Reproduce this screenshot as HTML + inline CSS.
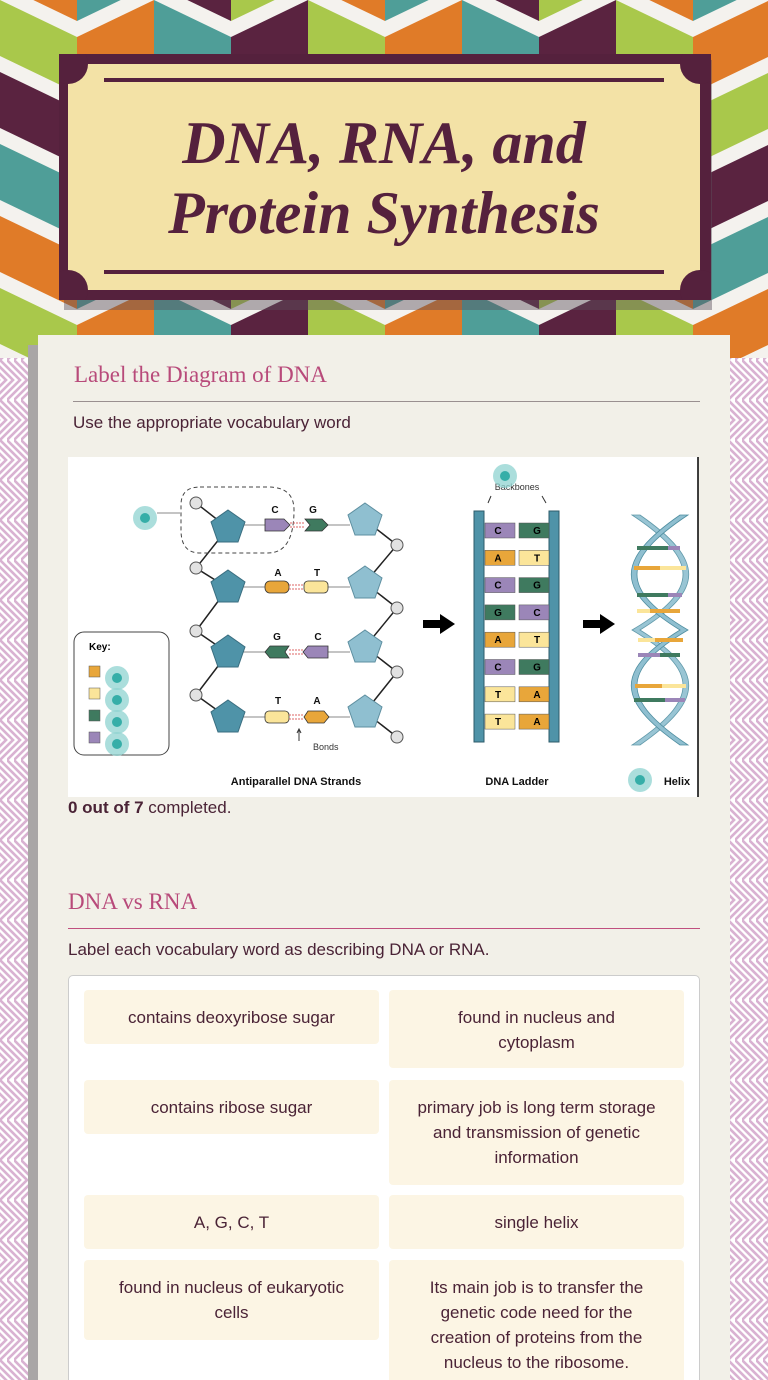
<!DOCTYPE html>
<html style="width:768px;height:1380px;overflow:hidden"><head><meta charset="utf-8">
<style>
*{margin:0;padding:0;box-sizing:border-box}
body{width:768px;height:1380px;overflow:hidden;position:relative;background:#fff;font-family:"Liberation Sans","DejaVu Sans",sans-serif}
.abs{position:absolute}
.h2{position:absolute;font-family:"Liberation Serif",serif;font-size:23px;color:#b84a7a}
.p{position:absolute;font-size:17px;color:#4a2336}
.cell{position:absolute;background:#fcf5e4;border-radius:4px;color:#4a2336;font-size:17px;line-height:25px;text-align:center;padding-top:15px}
</style></head><body>
<svg class="abs" style="left:0;top:0" width="768" height="1380">
<defs>
<pattern id="zz" width="7" height="40" patternUnits="userSpaceOnUse">
<polyline points="-21,0 -1,20 -21,40" fill="none" stroke="#d9b2d2" stroke-width="2.6"/>
<polyline points="-14,0 6,20 -14,40" fill="none" stroke="#d9b2d2" stroke-width="2.6"/>
<polyline points="-7,0 13,20 -7,40" fill="none" stroke="#d9b2d2" stroke-width="2.6"/>
<polyline points="0,0 20,20 0,40" fill="none" stroke="#d9b2d2" stroke-width="2.6"/>
</pattern>
<clipPath id="top"><rect x="0" y="0" width="768" height="358"/></clipPath>
</defs>
<rect x="0" y="350" width="768" height="1030" fill="url(#zz)"/>
<g id="chev" clip-path="url(#top)"></g>
</svg>
<script>
(function(){
var g=document.getElementById('chev');var cols=['#a9c84b','#5a2340','#4f9e98','#e07b28'];
var s='<rect x="0" y="0" width="768" height="360" fill="#f4f2ee"/>';
var W=77,A=37,P=72,T=56;
for(var i=-1;i<11;i++){var x0=i*W,x1=x0+W;var down=(i%2===0);
 for(var j=-2;j<7;j++){var yb=j*P;var c=cols[((i*3+j*5)%4+8)%4];
  var y0=down?yb:yb+A, y1=down?yb+A:yb;
  s+='<polygon fill="'+c+'" points="'+x0+','+y0+' '+x1+','+y1+' '+x1+','+(y1+T)+' '+x0+','+(y0+T)+'"/>';}}
g.innerHTML=s;})();
</script>
<!-- card -->
<div class="abs" style="left:64px;top:60px;width:648px;height:250px;background:rgba(90,80,90,.45)"></div>
<div class="abs" style="left:59px;top:54px;width:652px;height:246px;background:#55213d;overflow:hidden">
<div class="abs" style="left:9px;top:10px;width:632px;height:226px;background:#f3e2a6"></div>
<div class="abs" style="left:-11px;top:-10px;width:40px;height:40px;border-radius:50%;background:#55213d"></div>
<div class="abs" style="left:621px;top:-10px;width:40px;height:40px;border-radius:50%;background:#55213d"></div>
<div class="abs" style="left:-11px;top:216px;width:40px;height:40px;border-radius:50%;background:#55213d"></div>
<div class="abs" style="left:621px;top:216px;width:40px;height:40px;border-radius:50%;background:#55213d"></div>
</div>
<div class="abs" style="left:104px;top:78px;width:560px;height:4px;background:#55213d"></div>
<div class="abs" style="left:104px;top:270px;width:560px;height:4px;background:#55213d"></div>
<div class="abs" style="left:68px;top:108px;width:632px;text-align:center;font-family:'Liberation Serif',serif;font-style:italic;font-weight:bold;font-size:60px;line-height:70px;color:#55213d">DNA, RNA, and<br>Protein Synthesis</div>
<!-- panel -->
<div class="abs" style="left:28px;top:345px;width:10px;height:1035px;background:#a9a6a6"></div>
<div class="abs" style="left:38px;top:335px;width:692px;height:1045px;background:#f2f0e8"></div>
<div class="h2" style="left:74px;top:362px">Label the Diagram of DNA</div>
<div class="abs" style="left:73px;top:401px;width:627px;height:1px;background:#9a9090"></div>
<div class="p" style="left:73px;top:413px">Use the appropriate vocabulary word</div>
<svg class="abs" style="left:68px;top:457px" width="631" height="340" viewBox="68 457 631 340">
<rect x="68" y="457" width="630" height="340" fill="#fff"/>
<line x1="698" y1="457" x2="698" y2="797" stroke="#000" stroke-width="1.5"/>
<g stroke="#222" stroke-width="1.5" fill="none">
<polyline points="196,503 228,528 196,568 228,588 196,631 228,653 196,695 228,718"/>
<polyline points="365,520 397,545 365,583 397,608 365,647 397,672 365,712 397,737"/>
</g>
<g stroke="#888" stroke-width="1"><line x1="240" y1="525" x2="265" y2="525"/><line x1="328" y1="525" x2="350" y2="525"/>
<line x1="240" y1="587" x2="265" y2="587"/><line x1="328" y1="587" x2="350" y2="587"/>
<line x1="240" y1="652" x2="265" y2="652"/><line x1="328" y1="652" x2="350" y2="652"/>
<line x1="240" y1="717" x2="265" y2="717"/><line x1="328" y1="717" x2="350" y2="717"/>
<line x1="157" y1="513" x2="180" y2="513"/></g>
<path d="M200,487 H268 Q294,487 294,510 Q294,553 268,553 H200 Q181,553 181,530 V505 Q181,487 200,487Z" fill="none" stroke="#444" stroke-dasharray="4,3"/>
<g fill="#4f93a8" stroke="#3a6e80">
<polygon points="228,510 245,522 238,542 218,542 211,522"/>
<polygon points="228,570 245,582 238,602 218,602 211,582"/>
<polygon points="228,635 245,647 238,667 218,667 211,647"/>
<polygon points="228,700 245,712 238,732 218,732 211,712"/>
</g>
<g fill="#8fbfd0" stroke="#5e8fa0">
<polygon points="365,503 382,515 375,535 355,535 348,515"/>
<polygon points="365,566 382,578 375,598 355,598 348,578"/>
<polygon points="365,630 382,642 375,662 355,662 348,642"/>
<polygon points="365,695 382,707 375,727 355,727 348,707"/>
</g>
<g fill="#e2e2e2" stroke="#555">
<circle cx="196" cy="503" r="6"/><circle cx="196" cy="568" r="6"/><circle cx="196" cy="631" r="6"/><circle cx="196" cy="695" r="6"/>
<circle cx="397" cy="545" r="6"/><circle cx="397" cy="608" r="6"/><circle cx="397" cy="672" r="6"/><circle cx="397" cy="737" r="6"/>
</g>
<g stroke="#333" stroke-width="0.8">
<polygon points="265,519 284,519 290,525 284,531 265,531" fill="#9b86b8"/>
<polygon points="305,519 322,519 328,525 322,531 305,531 310,525" fill="#3f7a5f"/>
<rect x="265" y="581" width="24" height="12" rx="5" fill="#e8a63a"/>
<rect x="304" y="581" width="24" height="12" rx="4" fill="#fbe59a"/>
<polygon points="270,646 289,646 285,652 289,658 270,658 265,652" fill="#3f7a5f"/>
<polygon points="308,646 328,646 328,658 308,658 303,652" fill="#9b86b8"/>
<rect x="265" y="711" width="24" height="12" rx="4" fill="#fbe59a"/>
<polygon points="308,711 324,711 329,717 324,723 308,723 304,717" fill="#e8a63a"/>
</g>
<g stroke="#d66" stroke-width="1" stroke-dasharray="2,1">
<line x1="290" y1="523" x2="305" y2="523"/><line x1="290" y1="527" x2="305" y2="527"/>
<line x1="289" y1="585" x2="304" y2="585"/><line x1="289" y1="589" x2="304" y2="589"/>
<line x1="289" y1="650" x2="303" y2="650"/><line x1="289" y1="654" x2="303" y2="654"/>
<line x1="289" y1="715" x2="304" y2="715"/><line x1="289" y1="719" x2="304" y2="719"/>
</g>
<g font-family="Liberation Sans" font-weight="bold" font-size="10" fill="#111" text-anchor="middle">
<text x="275" y="513">C</text><text x="313" y="513">G</text>
<text x="278" y="576">A</text><text x="317" y="576">T</text>
<text x="277" y="640">G</text><text x="318" y="640">C</text>
<text x="278" y="704">T</text><text x="317" y="704">A</text>
</g>
<line x1="299" y1="741" x2="299" y2="730" stroke="#333"/><polyline points="297,733 299,729 301,733" fill="none" stroke="#333"/>
<text x="313" y="750" font-family="Liberation Sans" font-size="9" fill="#333">Bonds</text>
<rect x="74" y="632" width="95" height="123" rx="10" fill="#fff" stroke="#444"/>
<text x="89" y="650" font-family="Liberation Sans" font-weight="bold" font-size="10">Key:</text>
<rect x="89" y="666" width="11" height="11" fill="#e8a63a" stroke="#555" stroke-width=".5"/>
<rect x="89" y="688" width="11" height="11" fill="#fbe59a" stroke="#555" stroke-width=".5"/>
<rect x="89" y="710" width="11" height="11" fill="#3f7a5f" stroke="#555" stroke-width=".5"/>
<rect x="89" y="732" width="11" height="11" fill="#9b86b8" stroke="#555" stroke-width=".5"/>
<polygon points="423,620 440,620 440,614 455,624 440,634 440,628 423,628" fill="#000"/>
<polygon points="583,620 600,620 600,614 615,624 600,634 600,628 583,628" fill="#000"/>
<text x="517" y="490" text-anchor="middle" font-family="Liberation Sans" font-size="9" fill="#333">Backbones</text>
<line x1="491" y1="496" x2="488" y2="503" stroke="#333"/><line x1="542" y1="496" x2="546" y2="503" stroke="#333"/>
<rect x="474" y="511" width="10" height="231" fill="#4f93a8" stroke="#2d5b6a"/>
<rect x="549" y="511" width="10" height="231" fill="#4f93a8" stroke="#2d5b6a"/>
<g id="rungs" font-family="Liberation Sans" font-weight="bold" font-size="10" text-anchor="middle"></g>
<g fill="#8fbfd0" stroke="#4f8ea0" stroke-width="0.8">
<path d="M632,515 C700,560 700,590 632,630 C700,670 700,700 632,745 L640,745 C705,700 705,670 640,630 C705,590 705,560 640,515Z" opacity=".9"/>
<path d="M688,515 C620,560 620,590 688,630 C620,670 620,700 688,745 L680,745 C615,700 615,670 680,630 C615,590 615,560 680,515Z"/>
</g>
<g stroke-width="4">
<line x1="637" y1="548" x2="668" y2="548" stroke="#3f7a5f"/><line x1="668" y1="548" x2="680" y2="548" stroke="#9b86b8"/>
<line x1="634" y1="568" x2="660" y2="568" stroke="#e8a63a"/><line x1="660" y1="568" x2="686" y2="568" stroke="#fbe59a"/>
<line x1="637" y1="595" x2="668" y2="595" stroke="#3f7a5f"/><line x1="668" y1="595" x2="682" y2="595" stroke="#9b86b8"/>
<line x1="637" y1="611" x2="650" y2="611" stroke="#fbe59a"/><line x1="650" y1="611" x2="680" y2="611" stroke="#e8a63a"/>
<line x1="638" y1="640" x2="655" y2="640" stroke="#fbe59a"/><line x1="655" y1="640" x2="683" y2="640" stroke="#e8a63a"/>
<line x1="638" y1="655" x2="660" y2="655" stroke="#9b86b8"/><line x1="660" y1="655" x2="680" y2="655" stroke="#3f7a5f"/>
<line x1="635" y1="686" x2="662" y2="686" stroke="#e8a63a"/><line x1="662" y1="686" x2="686" y2="686" stroke="#fbe59a"/>
<line x1="634" y1="700" x2="665" y2="700" stroke="#3f7a5f"/><line x1="665" y1="700" x2="685" y2="700" stroke="#9b86b8"/>
</g>
<g font-family="Liberation Sans" font-weight="bold" font-size="11" fill="#111" text-anchor="middle">
<text x="296" y="785">Antiparallel DNA Strands</text><text x="517" y="785">DNA Ladder</text><text x="677" y="785">Helix</text></g>
<g id="dots"></g>
</svg>
<script>
(function(){
var r=document.getElementById('rungs'),s='';
var P={C:'#9b86b8',G:'#3f7a5f',A:'#e8a63a',T:'#fbe59a'};
var pairs=['CG','AT','CG','GC','AT','CG','TA','TA'];
for(var k=0;k<8;k++){var y=523+k*27.3,a=pairs[k][0],b=pairs[k][1];
s+='<rect x="485" y="'+y+'" width="30" height="15" fill="'+P[a]+'" stroke="#555" stroke-width=".5"/>';
s+='<rect x="519" y="'+y+'" width="30" height="15" fill="'+P[b]+'" stroke="#555" stroke-width=".5"/>';
s+='<text x="498" y="'+(y+11)+'">'+a+'</text><text x="537" y="'+(y+11)+'">'+b+'</text>';}
r.innerHTML=s;
var d=document.getElementById('dots'),t='',pts=[[145,518],[117,678],[117,700],[117,722],[117,744],[505,476],[640,780]];
pts.forEach(function(p){t+='<circle cx="'+p[0]+'" cy="'+p[1]+'" r="12" fill="#8fd3d0" opacity=".75"/><circle cx="'+p[0]+'" cy="'+p[1]+'" r="5" fill="#36aea8"/>';});
d.innerHTML=t;})();
</script>
<div class="p" style="left:68px;top:798px"><b>0 out of 7</b> completed.</div>
<div class="h2" style="left:68px;top:889px">DNA vs RNA</div>
<div class="abs" style="left:68px;top:928px;width:632px;height:1px;background:#c0507f"></div>
<div class="p" style="left:68px;top:940px">Label each vocabulary word as describing DNA or RNA.</div>
<div class="abs" style="left:68px;top:975px;width:632px;height:420px;background:#fff;border:1px solid #ccc;border-radius:5px"></div>
<div class="cell" style="left:84px;top:990px;width:295px;height:54px">contains deoxyribose sugar</div>
<div class="cell" style="left:389px;top:990px;width:295px;height:78px">found in nucleus and<br>cytoplasm</div>
<div class="cell" style="left:84px;top:1080px;width:295px;height:54px">contains ribose sugar</div>
<div class="cell" style="left:389px;top:1080px;width:295px;height:105px">primary job is long term storage<br>and transmission of genetic<br>information</div>
<div class="cell" style="left:84px;top:1195px;width:295px;height:54px">A, G, C, T</div>
<div class="cell" style="left:389px;top:1195px;width:295px;height:54px">single helix</div>
<div class="cell" style="left:84px;top:1260px;width:295px;height:80px">found in nucleus of eukaryotic<br>cells</div>
<div class="cell" style="left:389px;top:1260px;width:295px;height:130px">Its main job is to transfer the<br>genetic code need for the<br>creation of proteins from the<br>nucleus to the ribosome.</div>
</body></html>
